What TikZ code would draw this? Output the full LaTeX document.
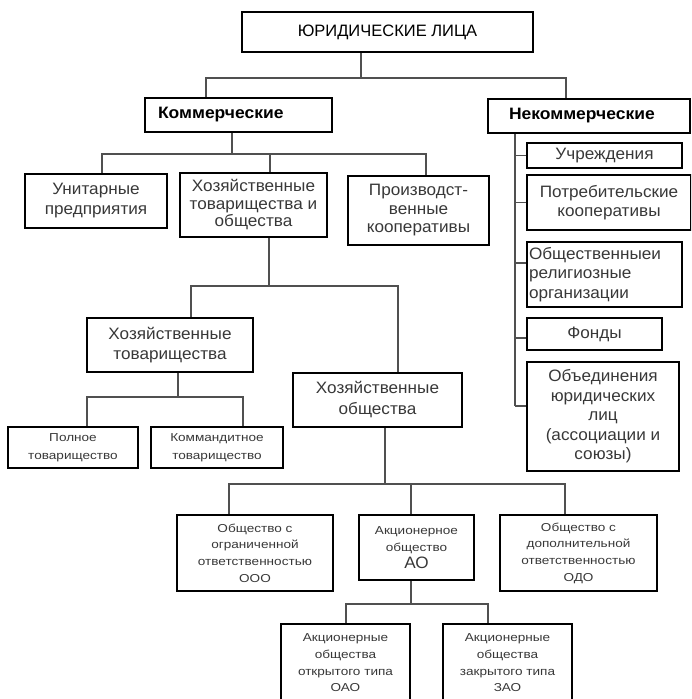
\documentclass[tikz,border=0pt]{standalone}
\usepackage{fontspec}
\setmainfont{Liberation Sans}
\newfontfamily\boxfont[FakeStretch=1.04]{Liberation Sans}
\newfontfamily\headfont[FakeStretch=1.06]{Liberation Sans}
\newfontfamily\smallfont[FakeStretch=1.18]{Liberation Sans}
\definecolor{txtgray}{HTML}{383838}
\definecolor{linegray}{HTML}{505050}
\begin{document}
\begin{tikzpicture}[x=1pt,y=-1pt,
box/.style={draw=black, line width=1.8pt, align=center, inner sep=0pt, text=txtgray,
  font=\boxfont\fontsize{16.5}{19.5}\selectfont},
sbox/.style={box, font=\smallfont\fontsize{11.5}{16.7}\selectfont},
head/.style={box, text=black, font=\headfont\bfseries\fontsize{16.5}{18}\selectfont},
link/.style={draw=linegray, line width=1.2pt}]
\useasboundingbox (0,0) rectangle (691,699);
\begin{scope}
\clip (0,0) rectangle (691,699);
\node[box, text=black, minimum width=291, minimum height=40, font=\fontsize{16.5}{18}\selectfont] (lica) at (387.5,32) {ЮРИДИЧЕСКИЕ ЛИЦА};
\node[head, minimum height=34, text width=161, inner xsep=13, align=left] (kom) at (238.5,115) {Коммерческие};
\node[head, minimum height=34, text width=160, inner xsep=21, align=left] (nekom) at (589,116) {Некоммерческие};
\node[box, minimum width=142, minimum height=54, font=\boxfont\fontsize{16.5}{20}\selectfont] (unit) at (96,201) {Унитарные\\предприятия};
\node[box, minimum width=147, minimum height=64, font=\boxfont\fontsize{16.5}{17.5}\selectfont] (hoz) at (253.5,205) {Хозяйственные\\товарищества и\\общества};
\node[box, minimum width=141, minimum height=69, font=\boxfont\fontsize{16.5}{18.5}\selectfont] (proizv) at (418.5,210.5) {Производст-\\венные\\кооперативы};
\node[box, minimum width=155, minimum height=25] (uchr) at (604.5,155.5) {Учреждения};
\node[box, minimum width=164, minimum height=55] (potr) at (609,202.5) {Потребительские\\кооперативы};
\node[box, minimum height=65, text width=151, inner xsep=2, align=left] (obsch) at (604.5,274.5) {Общественныеи\\религиозные\\организации};
\node[box, minimum width=135, minimum height=32] (fond) at (594.5,334) {Фонды};
\node[box, minimum width=152, minimum height=109] (obed) at (603,416.5) {Объединения\\юридических\\лиц\\(ассоциации и\\союзы)};
\node[box, minimum width=166, minimum height=54, font=\boxfont\fontsize{16.5}{20.5}\selectfont] (hozt) at (170,345) {Хозяйственные\\товарищества};
\node[box, minimum width=169, minimum height=54, font=\boxfont\fontsize{16.5}{21}\selectfont] (hozo) at (377.5,400) {Хозяйственные\\общества};
\node[sbox, minimum width=130, minimum height=41, font=\smallfont\fontsize{11.5}{18}\selectfont] (poln) at (73,447.5) {Полное\\товарищество};
\node[sbox, minimum width=132, minimum height=41, font=\smallfont\fontsize{11.5}{18}\selectfont] (komm) at (217,447.5) {Коммандитное\\товарищество};
\node[sbox, minimum width=156, minimum height=76] (ooo) at (255,553) {Общество с\\ограниченной\\ответственностью\\ООО};
\node[sbox, minimum width=115, minimum height=65] (ao) at (416.5,547.5) {Акционерное\\общество\\{\boxfont\fontsize{16.5}{17}\selectfont АО}};
\node[sbox, minimum width=157, minimum height=76] (odo) at (578.5,553) {Общество с\\дополнительной\\ответственностью\\ОДО};
\node[sbox, minimum width=129, minimum height=78] (oao) at (345.5,663) {Акционерные\\общества\\открытого типа\\ОАО};
\node[sbox, minimum width=129, minimum height=78] (zao) at (507.5,663) {Акционерные\\общества\\закрытого типа\\ЗАО};

\draw[link] ([xshift=-26.5]lica.south) -- ++(0,25) coordinate (t1);
\draw[link] ([xshift=-32.5]kom.north) |- (t1) -| ([xshift=-23]nekom.north);

\draw[link] ([xshift=-6.5]kom.south) -- ++(0,21) coordinate (k1);
\draw[link] ([xshift=6]unit.north) |- (k1) -| ([xshift=7.5]proizv.north);
\coordinate (k2) at ([xshift=16.5]hoz.north);
\draw[link] (k2) -- (k2 |- k1);

\draw[link] ([xshift=-74]nekom.south) -- ++(0,272) coordinate (n1);
\draw[link] (uchr.west) -- (uchr.west -| n1);
\draw[link] (potr.west) -- (potr.west -| n1);
\draw[link] ([yshift=11.5]obsch.west) -- ([yshift=11.5]obsch.west -| n1);
\draw[link] ([yshift=-4]fond.west) -- ([yshift=-4]fond.west -| n1);
\draw[link] (n1) -- (obed.west |- n1);

\draw[link] ([xshift=15.5]hoz.south) -- ++(0,48) coordinate (h2);
\draw[link] ([xshift=21]hozt.north) |- (h2) -| ([xshift=20.5]hozo.north);

\draw[link] ([xshift=8]hozt.south) -- ++(0,24) coordinate (h3);
\draw[link] ([xshift=14]poln.north) |- (h3) -| ([xshift=26]komm.north);

\draw[link] ([xshift=7.5]hozo.south) -- ++(0,56) coordinate (h4);
\draw[link] ([xshift=-26]ooo.north) |- (h4) -| ([xshift=-13.5]odo.north);
\coordinate (h5) at ([xshift=-5.5]ao.north);
\draw[link] (h5) -- (h5 |- h4);

\draw[link] ([xshift=-5.5]ao.south) -- ++(0,23) coordinate (a1);
\draw[link] ([xshift=0.5]oao.north) |- (a1) -| ([xshift=-19.5]zao.north);
\end{scope}
\end{tikzpicture}
\end{document}
